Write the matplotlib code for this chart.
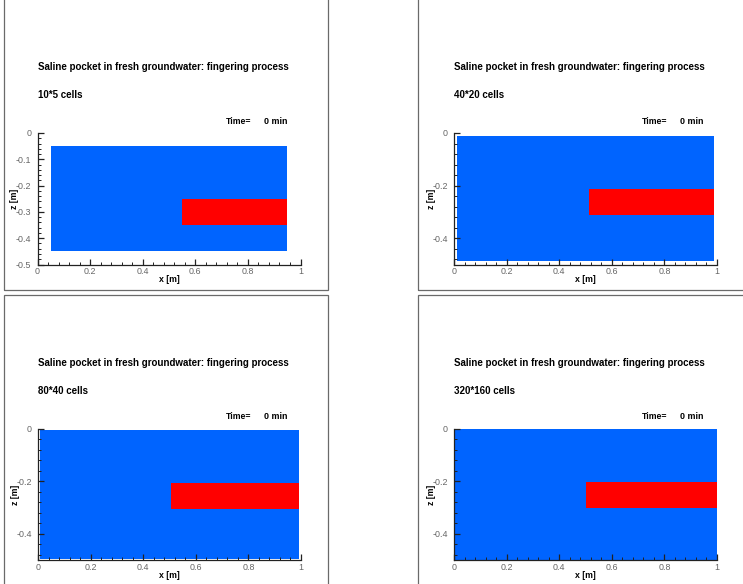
import numpy as np
import matplotlib
matplotlib.use('Agg')
import matplotlib.pyplot as plt
from matplotlib.colors import ListedColormap
from matplotlib.patches import Rectangle
from matplotlib.ticker import MultipleLocator, FuncFormatter

plt.rcParams['font.family'] = ['Liberation Sans', 'DejaVu Sans']
plt.rcParams['axes.unicode_minus'] = False

W, H = 743, 584

title = 'Saline pocket in fresh groundwater: fingering process'
cell_labels = ['10*5 cells', '40*20 cells', '80*40 cells', '320*160 cells']
nx_cells = [10, 40, 80, 320]
nz_cells = [5, 20, 40, 160]
time_min = [0, 0, 0, 0]

# domain and initial saline pocket, metres
domain_len, domain_depth = 1.0, 0.5
pocket_x = (0.5, 1.0)
pocket_z = (-0.3, -0.2)

y_major = [0.1, 0.2, 0.2, 0.2]
y_minor = [0.02, 0.04, 0.04, 0.04]

fresh_color = '#0064ff'
saline_color = '#ff0000'
cmap = ListedColormap([fresh_color, saline_color])

# layout in pixels: axes (left, top), frame boxes (x0, y0, x1, y1)
ax_px = [(37.5, 133), (454, 133), (38, 428.7), (454, 428.7)]
ax_w, ax_h = 263, 131.5
frames = [(3.5, -10, 327.5, 289.5), (418.5, -10, 760, 289.5),
          (3.5, 294.5, 327.5, 600), (418.5, 294.5, 760, 600)]


def fx(x):
    return x / W


def fy(y):
    return 1 - y / H


fig = plt.figure(figsize=(W / 100, H / 100), dpi=100)

for (x0, y0, x1, y1) in frames:
    fig.add_artist(Rectangle((fx(x0), fy(y1)), fx(x1) - fx(x0), fy(y0) - fy(y1),
                             transform=fig.transFigure, fill=False,
                             edgecolor='#6a6a6a', linewidth=0.9))

for i in range(4):
    left, top = ax_px[i]
    ax = fig.add_axes([fx(left), fy(top + ax_h), ax_w / W, ax_h / H])

    # cell-centred initial concentration, drawn with cell centres as nodes
    nx, nz = nx_cells[i], nz_cells[i]
    xc = (np.arange(nx) + 0.5) / nx * domain_len
    zc = -(np.arange(nz) + 0.5) / nz * domain_depth
    X, Z = np.meshgrid(xc, zc)
    conc = ((X > pocket_x[0]) & (X < pocket_x[1]) &
            (Z > pocket_z[0]) & (Z < pocket_z[1])).astype(float)
    ax.pcolormesh(xc, zc, conc[:-1, :-1], cmap=cmap, vmin=0, vmax=1,
                  shading='flat', edgecolors='none', antialiased=False)

    ax.set_xlim(0, domain_len)
    ax.set_ylim(-domain_depth, 0)
    for s in ['top', 'right']:
        ax.spines[s].set_visible(False)
    for s in ['left', 'bottom']:
        ax.spines[s].set_color('#222222')
        ax.spines[s].set_linewidth(0.9)

    ax.xaxis.set_major_locator(MultipleLocator(0.2))
    ax.xaxis.set_minor_locator(MultipleLocator(0.04))
    ax.yaxis.set_major_locator(MultipleLocator(y_major[i]))
    ax.yaxis.set_minor_locator(MultipleLocator(y_minor[i]))
    fmt = FuncFormatter(lambda v, p: '%g' % round(v, 3))
    ax.xaxis.set_major_formatter(fmt)
    ax.yaxis.set_major_formatter(fmt)
    ax.tick_params(which='major', direction='in', length=4, width=0.9,
                   color='#222222', labelcolor='#666666', labelsize=6.4)
    ax.tick_params(axis='y', which='major', pad=4.5)
    ax.tick_params(axis='x', which='major', pad=2)
    ax.tick_params(which='minor', direction='in', length=2, width=0.7,
                   color='#222222')

    ax.set_xlabel('x [m]', fontweight='bold', fontsize=6.3, va='center')
    ax.set_ylabel('z [m]', fontweight='bold', fontsize=6.3, va='center')
    ax.xaxis.set_label_coords(0.5, -0.113)
    ax.yaxis.set_label_coords(-0.086, 0.5)

    fig.text(fx(left), fy(top - 66), title, fontweight='bold', fontsize=7.0,
             ha='left', va='center')
    fig.text(fx(left), fy(top - 38), cell_labels[i], fontweight='bold',
             fontsize=7.0, ha='left', va='center')
    fig.text(fx(left + ax_w - 62), fy(top - 12), 'Time=', fontweight='bold',
             fontsize=6.2, ha='center', va='center')
    fig.text(fx(left + ax_w - 13), fy(top - 12), '%d min' % time_min[i],
             fontweight='bold', fontsize=6.4, ha='right', va='center')

fig.savefig('out.png', dpi=100)
